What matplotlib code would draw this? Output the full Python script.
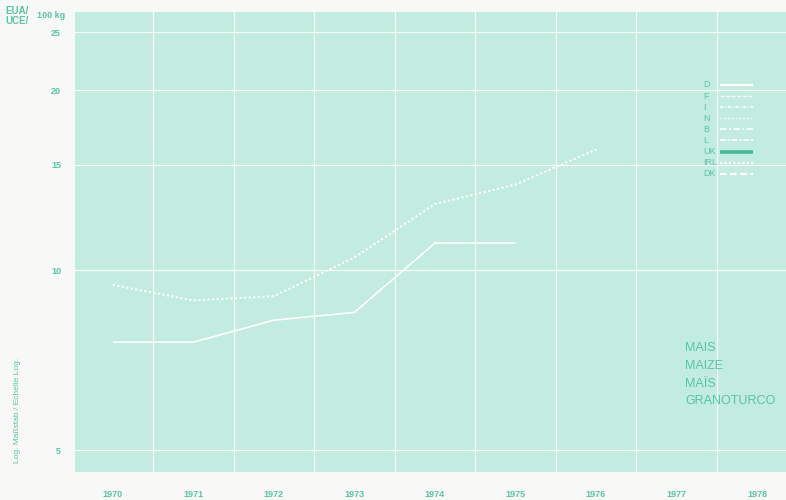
import matplotlib
matplotlib.use("Agg")
import matplotlib.pyplot as plt
from matplotlib.ticker import FixedLocator, NullLocator

plt.rcParams['font.family'] = ['Liberation Sans', 'DejaVu Sans']

years = [1970, 1971, 1972, 1973, 1974, 1975, 1976, 1977, 1978]
year_labels = [str(y) for y in years]

d_years = [1970, 1971, 1972, 1973, 1974, 1975]
d_values = [7.58, 7.58, 8.25, 8.5, 11.1, 11.1]

i_years = [1970, 1971, 1972, 1973, 1974, 1975, 1976]
i_values = [9.45, 8.9, 9.05, 10.5, 12.9, 13.9, 15.9]

y_ticks = [5, 10, 15, 20, 25]
y_tick_labels = ['5', '10', '15', '20', '25']

legend_labels = ['D', 'F', 'I', 'N', 'B', 'L', 'UK', 'IRL', 'DK']
product_names = ['MAIS', 'MAIZE', 'MAÏS', 'GRANOTURCO']

TEAL_TEXT = '#55c5a5'
BG = '#c2ecdf'

fig = plt.figure(figsize=(7.86, 5.0), dpi=100, facecolor='#f8f9f7')
ax = fig.add_axes([75/786, 28/500, 711/786, 460/500])
ax.set_facecolor(BG)
ax.set_yscale('log')
ax.set_xlim(1969.53, 1978.36)
ax.set_ylim(4.6, 27.0)

for s in ax.spines.values():
    s.set_visible(False)

def fy(ypix):
    return (472 - ypix) / 460

def fx(xpix):
    return (xpix - 75) / 711

# grid
for yv in y_ticks:
    ax.axhline(yv, color='white', lw=0.9, alpha=0.9, zorder=1)
for xv in years[:-1]:
    ax.axvline(xv + 0.5, color='white', lw=0.9, alpha=0.9, zorder=1)

ax.yaxis.set_major_locator(FixedLocator(y_ticks))
ax.yaxis.set_minor_locator(NullLocator())
ax.set_yticklabels(y_tick_labels)
ax.xaxis.set_major_locator(FixedLocator(years))
ax.xaxis.set_minor_locator(NullLocator())
ax.set_xticklabels(year_labels)
ax.tick_params(axis='both', length=0, colors=TEAL_TEXT, labelsize=6.5)
ax.tick_params(axis='y', pad=10)
ax.tick_params(axis='x', pad=13)
for t in ax.get_yticklabels() + ax.get_xticklabels():
    t.set_fontweight('bold')

# data lines
ax.plot(d_years, d_values, color='white', lw=1.2, solid_capstyle='butt', zorder=3)
ax.plot(i_years, i_values, color='white', lw=1.5, linestyle=(0, (1, 1.2)), zorder=3)

# legend (manual)
styles = [
    dict(color='white', lw=1.6, linestyle='-'),
    dict(color='white', lw=1.0, linestyle=(0, (3, 1)), alpha=0.8),
    dict(color='white', lw=1.2, linestyle=(0, (2, 1, 0.6, 1))),
    dict(color='white', lw=1.0, linestyle=(0, (1.5, 1.2)), alpha=0.8),
    dict(color='white', lw=1.2, linestyle=(0, (4, 1.5, 1, 1.5))),
    dict(color='white', lw=1.4, linestyle=(0, (3, 1, 1, 1))),
    dict(color='#3dbd96', lw=2.6, linestyle='-'),
    dict(color='white', lw=1.6, linestyle=(0, (1, 1))),
    dict(color='white', lw=1.6, linestyle=(0, (3, 1.5))),
]
y0 = 85
for k, (lab, st) in enumerate(zip(legend_labels, styles)):
    ypix = y0 + k * 11.1
    ax.plot([fx(720), fx(753)], [fy(ypix), fy(ypix)], transform=ax.transAxes,
            solid_capstyle='butt', zorder=4, **st)
    ax.text(fx(703), fy(ypix), lab, transform=ax.transAxes, color=TEAL_TEXT,
            fontsize=6.5, va='center', ha='left')

# product names
for k, nm in enumerate(product_names):
    ypix = 348 + k * 17.8
    ax.text(fx(685), fy(ypix), nm, transform=ax.transAxes,
            color=TEAL_TEXT, fontsize=9, va='center', ha='left')

# unit label
fig.text(5/786, 1 - 11/500, 'EUA/', color=TEAL_TEXT, fontsize=7, fontweight='bold', va='center', ha='left')
fig.text(5/786, 1 - 21/500, 'UCE/', color=TEAL_TEXT, fontsize=7, fontweight='bold', va='center', ha='left')
fig.text(37/786, 1 - 15/500, '100 kg', color=TEAL_TEXT, fontsize=6.5, fontweight='bold', va='center', ha='left')

# log scale label
fig.text(18/786, 1 - 410/500, 'Log. Maßstab / Echelle Log.', color=TEAL_TEXT, fontsize=6,
         rotation=90, va='center', ha='center')

fig.savefig('out.png', dpi=100, facecolor=fig.get_facecolor())
